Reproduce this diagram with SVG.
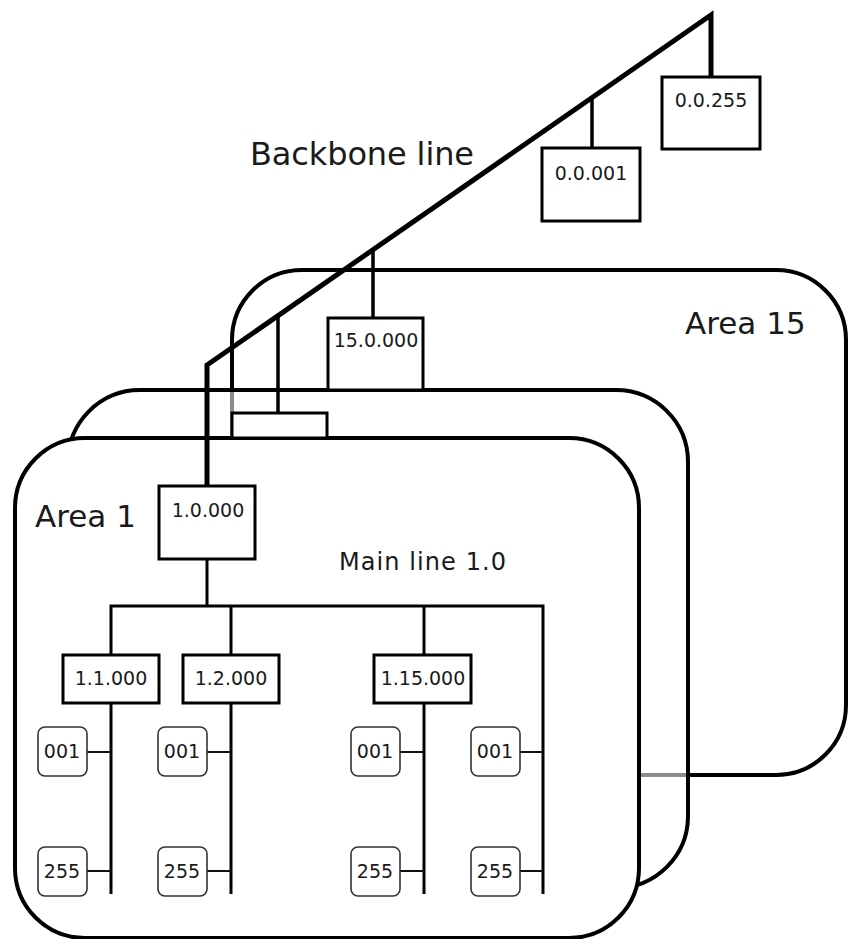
<svg xmlns="http://www.w3.org/2000/svg" width="848" height="939" viewBox="0 0 848 939">
<style>
text{font-family:"DejaVu Sans",Verdana,"Liberation Sans",sans-serif;fill:#1a1a1a}
.area{stroke:#000;stroke-width:4;fill:#fff}
.lbl{font-size:31px}
.dev{stroke:#000;stroke-width:3;fill:#fff}
.dt{font-size:19px;text-anchor:middle}
.sub{stroke:#333;stroke-width:1.6;fill:#fff}
.bb{stroke:#000;stroke-width:5;fill:none;stroke-linejoin:miter}
.ln{stroke:#000;stroke-width:3.5;fill:none}
.br{stroke:#000;stroke-width:3;fill:none}
.st{stroke:#111;stroke-width:2;fill:none}
</style>
<rect width="848" height="939" fill="#fff"/>
<g id="area15">
<rect class="area" x="232" y="270" width="614" height="505" rx="70"/>
<text class="lbl" x="685" y="334">Area 15</text>
</g>
<g id="area-middle">
<rect class="area" x="68" y="390" width="620" height="498" rx="72" style="fill-opacity:0.55"/>
</g>
<g id="area1">
<rect class="area" x="15" y="438" width="624" height="500" rx="70"/>
<text class="lbl" x="35" y="527">Area 1</text>
</g>
<text x="250" y="165" font-size="32" textLength="224">Backbone line</text>
<text x="339" y="570" font-size="24" textLength="167">Main line 1.0</text>
<g id="connectors">
<polyline class="bb" points="207,486 207,365 711,15 711,77"/>
<line class="ln" x1="592" y1="98" x2="592" y2="148"/>
<line class="ln" x1="373" y1="250" x2="373" y2="318"/>
<line class="ln" x1="278" y1="316" x2="278" y2="413"/>
<line class="br" x1="207" y1="559" x2="207" y2="606"/>
<polyline class="br" points="111,655 111,606 543,606 543,894"/>
<line class="br" x1="231" y1="606" x2="231" y2="655"/>
<line class="br" x1="424" y1="606" x2="424" y2="655"/>
<line class="br" x1="111" y1="703" x2="111" y2="894"/>
<line class="br" x1="231" y1="703" x2="231" y2="894"/>
<line class="br" x1="424" y1="703" x2="424" y2="894"/>
<line class="st" x1="87" y1="752" x2="111" y2="752"/>
<line class="st" x1="207" y1="752" x2="231" y2="752"/>
<line class="st" x1="400" y1="752" x2="424" y2="752"/>
<line class="st" x1="520" y1="752" x2="543" y2="752"/>
<line class="st" x1="87" y1="871" x2="111" y2="871"/>
<line class="st" x1="207" y1="871" x2="231" y2="871"/>
<line class="st" x1="400" y1="871" x2="424" y2="871"/>
<line class="st" x1="520" y1="871" x2="543" y2="871"/>
</g>
<g id="n-0-0-255"><rect class="dev" x="662" y="77" width="98" height="72"/><text class="dt" x="711" y="107">0.0.255</text></g>
<g id="n-0-0-001"><rect class="dev" x="542" y="148" width="98" height="73"/><text class="dt" x="591" y="180">0.0.001</text></g>
<g id="n-15-0-000"><rect class="dev" x="328" y="318" width="95" height="72"/><text class="dt" x="376" y="347">15.0.000</text></g>
<g id="coupler-middle"><rect class="dev" x="232" y="413" width="95" height="25"/></g>
<g id="n-1-0-000"><rect class="dev" x="159" y="486" width="96" height="73"/><text class="dt" x="208" y="517">1.0.000</text></g>
<g id="n-1-1-000"><rect class="dev" x="63" y="655" width="96" height="48"/><text class="dt" x="111" y="685">1.1.000</text></g>
<g id="n-1-2-000"><rect class="dev" x="183" y="655" width="96" height="48"/><text class="dt" x="231" y="685">1.2.000</text></g>
<g id="n-1-15-000"><rect class="dev" x="374" y="655" width="97" height="48"/><text class="dt" x="423" y="685">1.15.000</text></g>
<g id="d-1-1-001"><rect class="sub" x="38" y="727" width="49" height="49" rx="7"/><text class="dt" x="62" y="758">001</text></g>
<g id="d-1-2-001"><rect class="sub" x="158" y="727" width="49" height="49" rx="7"/><text class="dt" x="182" y="758">001</text></g>
<g id="d-1-15-001"><rect class="sub" x="351" y="727" width="49" height="49" rx="7"/><text class="dt" x="375" y="758">001</text></g>
<g id="d-1-x-001"><rect class="sub" x="471" y="727" width="49" height="49" rx="7"/><text class="dt" x="495" y="758">001</text></g>
<g id="d-1-1-255"><rect class="sub" x="38" y="847" width="49" height="49" rx="7"/><text class="dt" x="62" y="878">255</text></g>
<g id="d-1-2-255"><rect class="sub" x="158" y="847" width="49" height="49" rx="7"/><text class="dt" x="182" y="878">255</text></g>
<g id="d-1-15-255"><rect class="sub" x="351" y="847" width="49" height="49" rx="7"/><text class="dt" x="375" y="878">255</text></g>
<g id="d-1-x-255"><rect class="sub" x="471" y="847" width="49" height="49" rx="7"/><text class="dt" x="495" y="878">255</text></g>
</svg>
